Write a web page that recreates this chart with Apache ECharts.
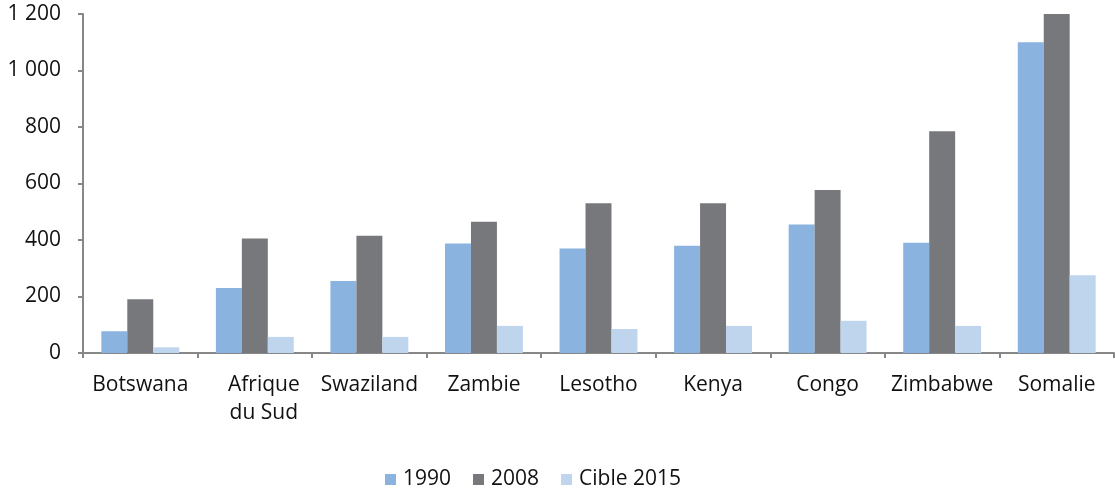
<!DOCTYPE html>
<html>
<head>
<meta charset="utf-8">
<script src="https://cdn.jsdelivr.net/npm/echarts@6/dist/echarts.min.js"></script>
<style>
  html, body { margin: 0; padding: 0; background: #fff; }
  #chart { width: 1115px; height: 491px; }
</style>
</head>
<body>
<div id="chart"></div>
<script>
const countries = ["Botswana", "Afrique\ndu Sud", "Swaziland", "Zambie", "Lesotho", "Kenya", "Congo", "Zimbabwe", "Somalie"];
const values1990 = [77, 230, 255, 388, 370, 380, 455, 390, 1100];
const values2008 = [190, 405, 415, 465, 530, 530, 577, 785, 1200];
const valuesCible = [20, 57, 57, 96, 85, 96, 114, 96, 275];
const yTicks = [0, 200, 400, 600, 800, 1000, 1200];

const font = "Open Sans";
const textColor = "#111";
const axisGray = "#878787";

const fmt = (v) => String(v).replace(/\B(?=(\d{3})+(?!\d))/g, " ");

const chart = echarts.init(document.getElementById("chart"));

const barSeries = (name, data, color) => ({
  name: name,
  type: "bar",
  data: data,
  barGap: "0%",
  barCategoryGap: "32%",
  itemStyle: { color: color },
});

chart.setOption({
  animation: false,
  grid: { left: 83, right: 1, top: 14, bottom: 138, containLabel: false },
  legend: {
    left: 380,
    top: 464,
    itemWidth: 11,
    itemHeight: 11,
    itemGap: 22,
    icon: "rect",
    textStyle: { fontFamily: font, fontSize: 21, color: textColor, padding: [0, 0, 0, 2] },
    data: ["1990", "2008", "Cible 2015"],
  },
  xAxis: {
    type: "category",
    data: countries.map((c) =>
      c.indexOf("\n") >= 0 ? { value: c, textStyle: { padding: [0, 0, 0, 18] } } : c
    ),
    axisLine: { lineStyle: { color: axisGray, width: 2 } },
    axisTick: { show: true, length: 5, lineStyle: { color: axisGray, width: 2 } },
    axisLabel: {
      fontFamily: font,
      fontSize: 21,
      color: textColor,
      margin: 18,
      lineHeight: 28,
      interval: 0,
    },
  },
  yAxis: {
    type: "value",
    min: yTicks[0],
    max: yTicks[yTicks.length - 1],
    interval: 200,
    axisLine: { show: true, lineStyle: { color: axisGray, width: 2 } },
    axisTick: { show: true, length: 5, lineStyle: { color: axisGray, width: 2 } },
    splitLine: { show: false },
    axisLabel: {
      fontFamily: font,
      fontSize: 21,
      color: textColor,
      margin: 22,
      padding: [10, 0, 0, 0],
      formatter: fmt,
    },
  },
  series: [
    barSeries("1990", values1990, "#8AB3E0"),
    barSeries("2008", values2008, "#77787C"),
    barSeries("Cible 2015", valuesCible, "#BFD5EE"),
  ],
});
</script>
</body>
</html>
